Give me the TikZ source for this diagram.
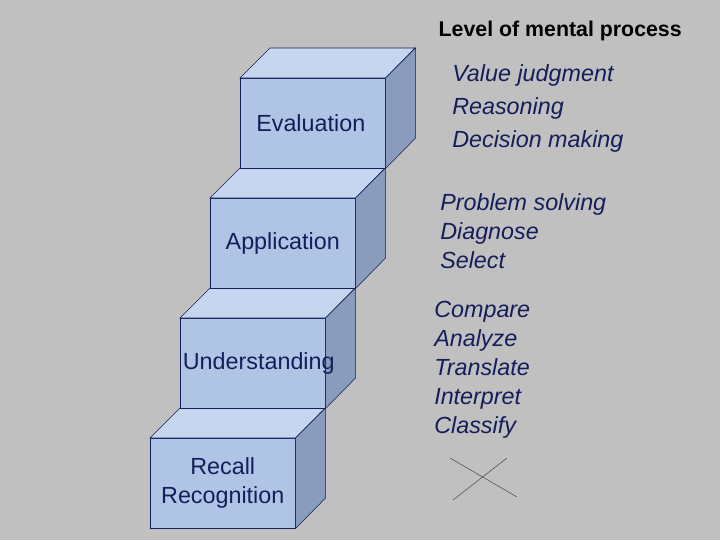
\documentclass[tikz,border=0pt]{standalone}
\usepackage{fontspec}
\setmainfont{Liberation Sans}
\usetikzlibrary{positioning}
\definecolor{bggray}{RGB}{192,192,192}
\definecolor{frontblue}{RGB}{176,196,230}
\definecolor{topblue}{RGB}{198,214,240}
\definecolor{sideblue}{RGB}{138,156,188}
\definecolor{edgeblue}{RGB}{20,30,90}
\definecolor{navy}{RGB}{20,30,90}
\tikzset{% styles for the steps
	front/.style={draw=edgeblue, fill=frontblue, minimum width=108.75pt, minimum height=67.5pt, inner sep=0pt},
	steptext/.style={inner sep=0pt, align=center, text=navy, font=\fontsize{17.5}{22}\selectfont},
	topface/.style={draw=edgeblue, fill=topblue},
	sideface/.style={draw=edgeblue, fill=sideblue},
	verbs/.style={anchor=north west, inner sep=0pt, align=left, text=navy, font=\fontsize{17.5}{21.75}\itshape\selectfont},
}
\begin{document}
\begin{tikzpicture}[x=0.75pt, y=-0.75pt]
\fill[bggray] (0,0) rectangle (720,540);
\useasboundingbox (0,0) rectangle (720,540);
\foreach \name/\x/\y/\dx/\txt in {rec/150/438/0/{Recall\\Recognition}, und/180/318/6/Understanding, app/210/198/0/Application, eva/240/78/-2/Evaluation}{
	\node[front, anchor=north west] (\name) at (\x,\y) {};
	\draw[topface] (\name.north west) -- ++(30,-30) -- ++(145,0) -- (\name.north east) -- cycle;
	\draw[sideface] (\name.north east) -- ++(30,-30) -- ++(0,90) -- (\name.south east) -- cycle;
	\node[steptext] (\name-txt) at ([xshift=\dx*0.75pt]\name.center) {\txt};
}
\node[anchor=north east, inner sep=0pt, font=\fontsize{16}{18}\bfseries\selectfont] (title) at (682,21) {Level of mental process};
\node[verbs, font=\fontsize{17.5}{24.75}\itshape\selectfont] (v1) at (452,64) {Value judgment\\Reasoning\\Decision making};
\node[verbs] (v2) at (440,193) {Problem solving\\Diagnose\\Select};
\node[verbs] (v3) at (434,301) {Compare\\Analyze\\Translate\\Interpret\\Classify};
\coordinate (c1) at (450,458);
\coordinate (c2) at (517,497);
\coordinate (c3) at (453,500);
\coordinate (c4) at (507,458);
\draw[black!70] (c1) -- (c2);
\draw[black!70] (c3) -- (c4);
\end{tikzpicture}
\end{document}
